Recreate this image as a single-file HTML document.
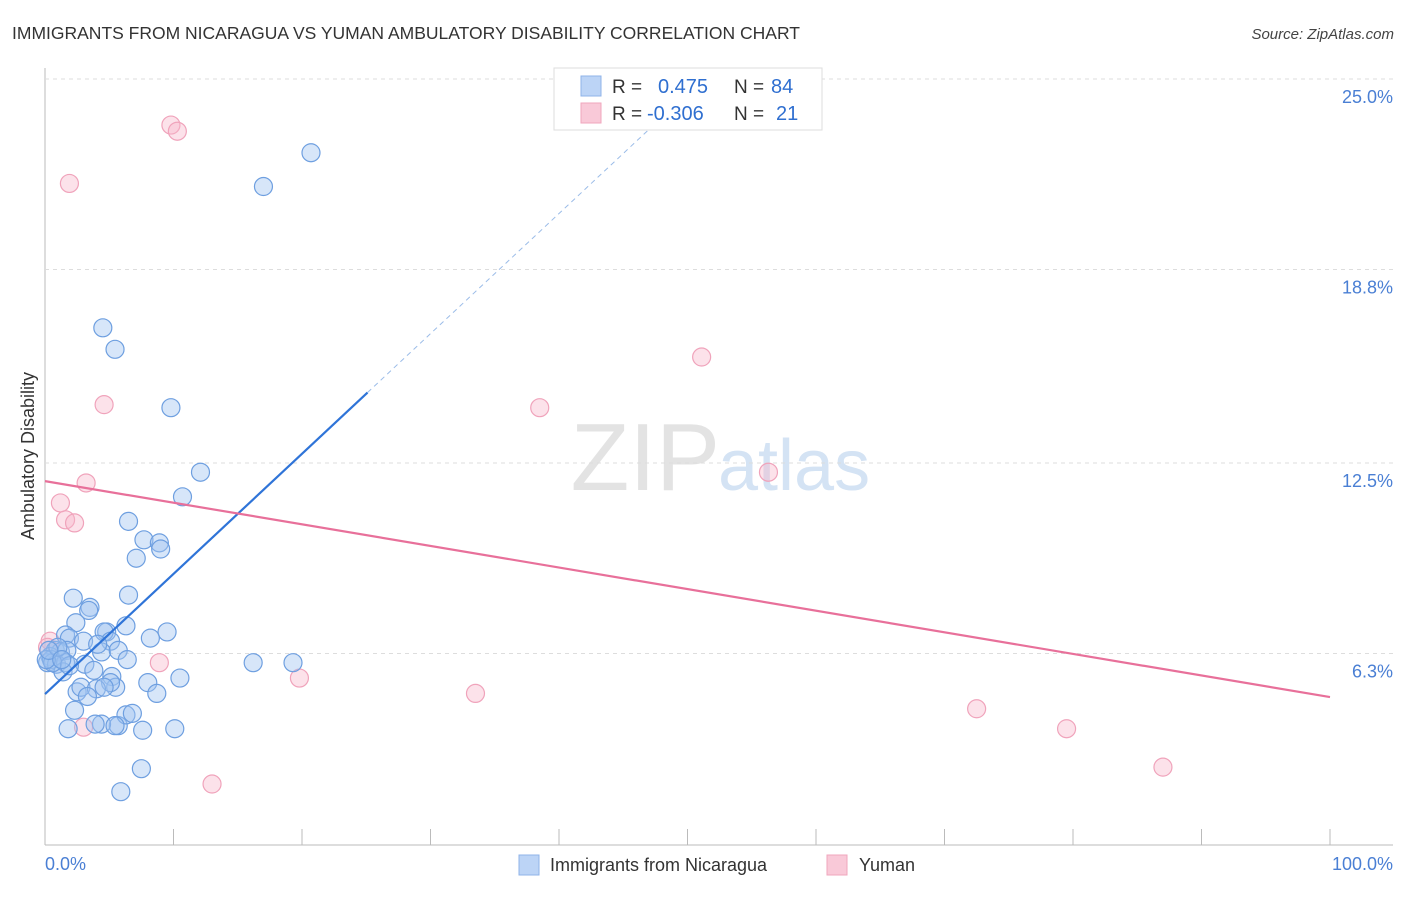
<!DOCTYPE html>
<html><head><meta charset="utf-8"><style>
body{margin:0;background:#fff;font-family:"Liberation Sans",sans-serif;}
svg text{font-family:"Liberation Sans",sans-serif;}
</style></head><body>
<svg id="c" width="1406" height="892" xmlns="http://www.w3.org/2000/svg">
<text x="12" y="39" font-size="17.5" fill="#333">IMMIGRANTS FROM NICARAGUA VS YUMAN AMBULATORY DISABILITY CORRELATION CHART</text>
<text x="1394" y="39" font-size="15" fill="#444" font-style="italic" text-anchor="end">Source: ZipAtlas.com</text>
<text x="720" y="490" font-size="96" fill="#e3e3e3" text-anchor="end" font-family="Liberation Serif">ZIP</text>
<text x="718" y="490" font-size="72" fill="#d4e3f4">atlas</text>
<g id="grid"></g>
<g id="pts"></g>
<g id="lines"></g>
<text transform="translate(34,456) rotate(-90)" font-size="18" fill="#333" text-anchor="middle">Ambulatory Disability</text>
<text x="45" y="870" font-size="18" fill="#4a7fd4">0.0%</text>
<text x="1393" y="870" font-size="18" fill="#4a7fd4" text-anchor="end">100.0%</text>
<g>
<rect x="554" y="68" width="268" height="62" fill="#fff" stroke="#ddd"/>
<rect x="581" y="76" width="20" height="20" fill="#bcd4f6" stroke="#8fb3e8"/>
<rect x="581" y="103" width="20" height="20" fill="#f9c9d8" stroke="#f0a6bd"/>
<text x="612" y="93" font-size="19" fill="#333">R =</text><text x="658" y="93" font-size="20" fill="#2f6fd0">0.475</text>
<text x="734" y="93" font-size="19" fill="#333">N =</text><text x="771" y="93" font-size="20" fill="#2f6fd0">84</text>
<text x="612" y="120" font-size="19" fill="#333">R =</text><text x="647" y="120" font-size="20" fill="#2f6fd0">-0.306</text>
<text x="734" y="120" font-size="19" fill="#333">N =</text><text x="776" y="120" font-size="20" fill="#2f6fd0">21</text>
</g>
<g>
<rect x="519" y="855" width="20" height="20" fill="#bcd4f6" stroke="#8fb3e8"/>
<text x="550" y="871" font-size="18" fill="#333">Immigrants from Nicaragua</text>
<rect x="827" y="855" width="20" height="20" fill="#f9c9d8" stroke="#f0a6bd"/>
<text x="859" y="871" font-size="18" fill="#333">Yuman</text>
</g>
</svg>
<script>
const yTicks=[6.3,12.5,18.8,25.0];
const xTickCount=10;
const blueX=[20.7,17.0,4.5,5.45,9.8,12.1,10.7,6.5,7.7,8.9,9.0,7.1,2.2,6.5,3.5,3.4,2.4,9.5,8.2,6.3,4.8,4.6,5.1,1.6,1.9,0.8,1.2,1.7,0.4,0.2,0.5,0.9,1.6,3.1,4.4,5.7,6.4,16.2,19.3,3.8,1.4,5.2,10.5,8.0,5.5,5.1,2.5,2.8,4.0,4.6,3.3,8.7,2.3,5.7,4.4,3.9,1.8,6.3,6.8,5.45,7.6,10.1,7.5,5.9,0.6,0.1,1.0,1.9,3.0,4.1,0.3,1.3];
const blueY=[22.6,21.5,16.9,16.2,14.3,12.2,11.4,10.6,10.0,9.9,9.7,9.4,8.1,8.2,7.8,7.7,7.3,7.0,6.8,7.2,7.0,7.0,6.7,6.9,6.8,6.4,6.35,6.4,6.2,6.0,6.1,5.95,6.0,5.95,6.35,6.4,6.1,6.0,6.0,5.75,5.7,5.55,5.5,5.35,5.2,5.35,5.05,5.2,5.15,5.2,4.9,5.0,4.45,3.95,4.0,4.0,3.85,4.3,4.35,3.95,3.8,3.85,2.55,1.8,6.0,6.1,6.5,5.9,6.7,6.6,6.4,6.1];
const pinkX=[9.8,10.3,1.9,4.6,38.5,51.1,56.3,3.2,1.2,1.6,2.3,8.9,19.8,33.5,72.5,79.5,87.0,13.0,3.0,0.4,0.2];
const pinkY=[23.5,23.3,21.6,14.4,14.3,15.95,12.2,11.85,11.2,10.65,10.55,6.0,5.5,5.0,4.5,3.85,2.6,2.05,3.9,6.7,6.5];
const blueLine=[4.98,0.391];
const pinkLine=[11.91,4.88];
const X=v=>45+v*12.85, Y=v=>847-v*30.72;
const NS="http://www.w3.org/2000/svg";
function mk(t,a,p){const e=document.createElementNS(NS,t);for(const k in a)e.setAttribute(k,a[k]);p.appendChild(e);return e;}
const grid=document.getElementById('grid');
mk('line',{x1:45,y1:68,x2:45,y2:845,stroke:'#bbb'},grid);
mk('line',{x1:45,y1:845,x2:1393,y2:845,stroke:'#bbb'},grid);
yTicks.forEach((t,i)=>{
 const g=mk('line',{x1:45,y1:Y(t),x2:1393,y2:Y(t),stroke:'#ddd','stroke-dasharray':'4,4'},grid);
 
 
 const tx=mk('text',{x:1393,y:Y(t)+24,'font-size':18,fill:'#4a7fd4','text-anchor':'end'},grid);
 tx.textContent=t.toFixed(1)+'%';
 
 
});
for(let i=1;i<=xTickCount;i++){
 const l=mk('line',{x1:X(i*10),y1:829,x2:X(i*10),y2:845,stroke:'#bbb'},grid);
 
 
}
const pts=document.getElementById('pts');
pinkX.forEach((x,i)=>{
 const c=mk('circle',{cx:X(x),cy:Y(pinkY[i]),r:9,fill:'rgba(248,182,202,0.4)',stroke:'#f0a3bb','stroke-width':1.2},pts);
 
 
});
blueX.forEach((x,i)=>{
 const c=mk('circle',{cx:X(x),cy:Y(blueY[i]),r:9,fill:'rgba(160,196,240,0.42)',stroke:'#6e9fe0','stroke-width':1.2},pts);
 
 
});
const ln=document.getElementById('lines');
const b=x=>blueLine[0]+blueLine[1]*x;
const l1=mk('line',{x1:X(0),y1:Y(b(0)),x2:X(25.1),y2:Y(b(25.1)),stroke:'#2f74d8','stroke-width':2.2},ln);


const l2=mk('line',{x1:X(25.1),y1:Y(b(25.1)),x2:X(47.9),y2:Y(b(47.9)),stroke:'#9bbce8','stroke-width':1,'stroke-dasharray':'5,4'},ln);


const l3=mk('line',{x1:X(0),y1:Y(pinkLine[0]),x2:X(100),y2:Y(pinkLine[1]),stroke:'#e8709a','stroke-width':2.2},ln);


</script>
</body></html>
